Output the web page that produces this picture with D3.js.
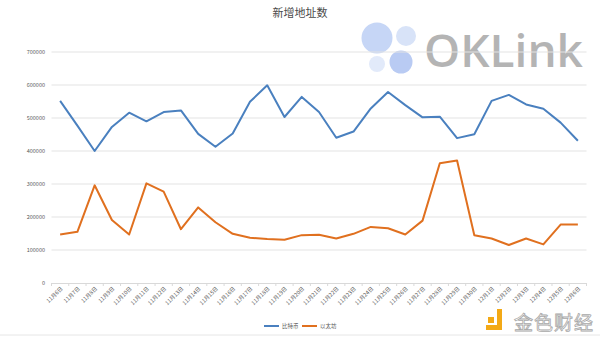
<!DOCTYPE html>
<html><head><meta charset="utf-8">
<script src="https://cdn.jsdelivr.net/npm/d3@7"></script>
<style>body{margin:0;background:#fff;}svg{display:block;font-family:"Noto Sans CJK SC","Noto Sans",sans-serif;}</style>
</head><body>
<svg id="c" width="600" height="337"></svg>
<script>
const title = "新增地址数";
const dates = ["11月6日","11月7日","11月8日","11月9日","11月10日","11月11日","11月12日","11月13日","11月14日","11月15日","11月16日","11月17日","11月18日","11月19日","11月20日","11月21日","11月22日","11月23日","11月24日","11月25日","11月26日","11月27日","11月28日","11月29日","11月30日","12月1日","12月2日","12月3日","12月4日","12月5日","12月6日"];
const btc = [552000,477000,400000,473000,516000,490000,518000,523000,452000,413000,453000,549000,599000,503000,564000,518000,440000,459000,529000,579000,539000,502000,504000,439000,451000,552000,570000,541000,528000,486000,431000];
const eth = [147000,155000,296000,191000,147000,302000,277000,163000,229000,184000,149000,137000,133000,131000,145000,146000,135000,149000,170000,166000,147000,189000,363000,371000,145000,135000,115000,135000,117000,177000,177000];
const yTicks = [0,100000,200000,300000,400000,500000,600000,700000];
const seriesNames = ["比特币","以太坊"];
const colors = ["#4a80bf","#e0701f"];

const svg = d3.select("#c");
const m = {l:51.5, r:586.5, t:52, b:283};
const x = d3.scaleBand().domain(dates).range([m.l, m.r]);
const y = d3.scaleLinear().domain([0,700000]).range([m.b, m.t]);

// watermark OKLink
const wm = svg.append("g");
wm.append("circle").attr("cx",377).attr("cy",38).attr("r",15.5).attr("fill","#c6d6f6");
wm.append("circle").attr("cx",406).attr("cy",36).attr("r",10).attr("fill","#d8e3f8");
wm.append("circle").attr("cx",377).attr("cy",64).attr("r",8).attr("fill","#e2eafa");
wm.append("circle").attr("cx",401).attr("cy",62).attr("r",11.5).attr("fill","#b9cbf3");
wm.append("text").attr("x",424).attr("y",67).attr("font-family","Open Sans, Noto Sans, sans-serif")
  .attr("font-weight","600").attr("font-size",46).attr("fill","#b4b4b4").text("OKLink");

// gridlines
svg.append("g").selectAll("line").data(yTicks.filter(d=>d>0)).join("line")
  .attr("x1",m.l).attr("x2",m.r).attr("y1",d=>y(d)).attr("y2",d=>y(d))
  .attr("stroke","#e3e3e3").attr("stroke-width",1);

// y labels
svg.append("g").selectAll("text").data(yTicks).join("text")
  .attr("x",45).attr("y",d=>y(d)+2).attr("text-anchor","end")
  .attr("font-size",5.5).attr("fill","#595959").text(d=>d);

// x axis
const xa = svg.append("g").attr("transform",`translate(0,${m.b})`)
  .call(d3.axisBottom(x).tickSize(0).tickFormat(""));
xa.select(".domain").attr("stroke","#d9d9d9");
svg.append("g").selectAll("line").data(d3.range(dates.length+1)).join("line")
  .attr("x1",i=>m.l+i*x.step()).attr("x2",i=>m.l+i*x.step())
  .attr("y1",m.b).attr("y2",m.b+3).attr("stroke","#d9d9d9");
svg.append("g").selectAll("text").data(dates).join("text")
  .attr("transform",d=>`translate(${x(d)+x.bandwidth()/2+3},${m.b+6}) rotate(-45)`)
  .attr("text-anchor","end").attr("font-size",5.5).attr("fill","#595959").text(d=>d);

// lines
const line = d3.line().x((d,i)=>x(dates[i])+x.bandwidth()/2).y(d=>y(d));
[btc,eth].forEach((s,k)=>{
  svg.append("path").datum(s).attr("d",line).attr("fill","none")
    .attr("stroke",colors[k]).attr("stroke-width",2).attr("stroke-linejoin","round");
});

// title
svg.append("text").attr("x",300).attr("y",17).attr("text-anchor","middle")
  .attr("font-size",11).attr("fill","#4a4a4a").text(title);

// legend
const lg = svg.append("g");
[[264,282],[302,320]].forEach((p,k)=>{
  lg.append("line").attr("x1",p[0]).attr("x2",p[0]+15).attr("y1",326).attr("y2",326)
    .attr("stroke",colors[k]).attr("stroke-width",2);
  lg.append("text").attr("x",p[1]).attr("y",328).attr("font-size",5.5).attr("fill","#595959").text(seriesNames[k]);
});

// bottom frame line
svg.append("line").attr("x1",0).attr("x2",600).attr("y1",335).attr("y2",335).attr("stroke","#e6e6e6");

// watermark 金色财经
const jw = svg.append("g");
jw.append("rect").attr("x",488).attr("y",317).attr("width",6).attr("height",6).attr("fill","#f3a916");
jw.append("path").attr("d","M497,309 h5 v21 h-16 v-5 h11 z").attr("fill","#f3a916");
jw.append("text").attr("x",514).attr("y",330).attr("font-size",19).attr("fill","#fff")
  .attr("stroke","#a8a8a8").attr("stroke-width",0.8).attr("letter-spacing",1).text("金色财经");
</script>
</body></html>
